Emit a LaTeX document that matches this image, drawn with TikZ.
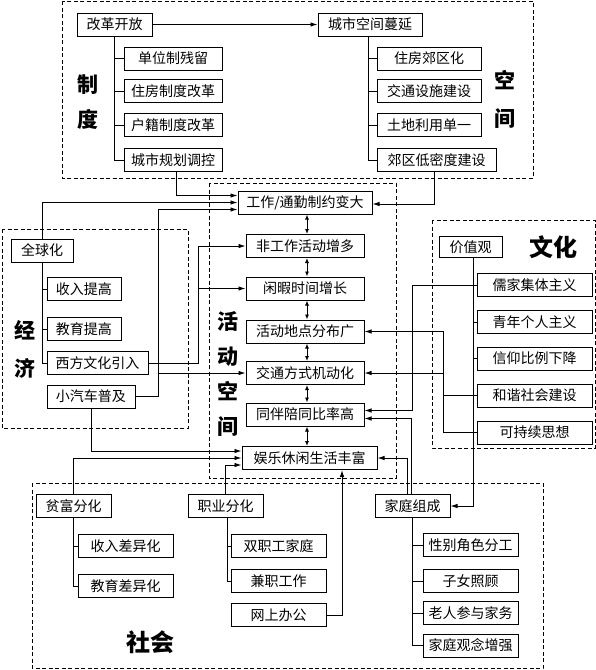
\documentclass[tikz,border=0pt]{standalone}
\usepackage{fontspec}
\setmainfont{Noto Sans CJK SC}
\usetikzlibrary{arrows.meta}

\begin{document}
\begin{tikzpicture}[
    x=1pt, y=-1pt,
    >={Latex[length=7pt,width=4.5pt]},
    every node/.style={font=\fontsize{14}{16}\selectfont},
    factor/.style={draw, line width=1pt, minimum width=#1, minimum height=23pt, inner sep=1pt},
    factor/.default=75,
    link/.style={line width=0.9pt},
    both/.style={line width=0.9pt, {Latex[length=5pt,width=4pt]}-{Latex[length=5pt,width=4pt]}},
    group/.style={draw, line width=1pt, dash pattern=on 4pt off 2.5pt},
    heading/.style={font=\fontsize{21}{35}\selectfont\bfseries, align=center, inner sep=0pt},
]
\useasboundingbox (0,0) rectangle (596,670);

% === Dashed groups ===
\draw[group] (62,1) rectangle (533,178);
\draw[group] (2,229) rectangle (188,428);
\draw[group] (209,183) rectangle (396,478);
\draw[group] (432,220) rectangle (595,448);
\draw[group] (32,483) rectangle (543,668);

% === 制度 ===
\node[factor=75] (gaige) at (114.5,24.5) {改革开放};
\node[factor=98] (danwei) at (173,58.5) {单位制残留};
\node[factor=98] (zhufang) at (173,91) {住房制度改革};
\node[factor=98] (huji) at (173,125) {户籍制度改革};
\node[factor=98] (guihua) at (173,160) {城市规划调控};
\node[heading] (zhidu) at (88,102.5) {制\\度};

% === 空间 ===
\node[factor=104] (manyan) at (370,24.5) {城市空间蔓延};
\node[factor=104] (jiaoqu) at (429,58.5) {住房郊区化};
\node[factor=104] (sheshi) at (429,91) {交通设施建设};
\node[factor=104] (tudi) at (429,125) {土地利用单一};
\node[factor=119] (midu) at (436.5,160) {郊区低密度建设};
\node[heading] (kongjian) at (505,99) {空\\[3pt]间};

% === 活动空间 ===
\node[factor=134] (gongzuo) at (305,202.5) {工作/通勤制约变大};
\node[factor=118] (feigz) at (305,246) {非工作活动增多};
\node[factor=118] (xianxia) at (305,288.5) {闲暇时间增长};
\node[factor=118] (didian) at (305,331.5) {活动地点分布广};
\node[factor=118] (jidong) at (305,373) {交通方式机动化};
\node[factor=118] (peitong) at (305,414.5) {同伴陪同比率高};
\node[factor=135] (yule) at (309.5,458) {娱乐休闲生活丰富};
\node[heading] (huodong) at (228,373.5) {活\\动\\空\\间};

% === 经济 ===
\node[factor=62] (quanqiu) at (42,250.5) {全球化};
\node[factor=74] (shouru) at (84,289) {收入提高};
\node[factor=74] (jiaoyu) at (84,329) {教育提高};
\node[factor=101] (xifang) at (97.5,363) {西方文化引入};
\node[factor=88] (qiche) at (91,396.5) {小汽车普及};
\node[heading] (jingji) at (25,349) {经\\[3pt]济};

% === 文化 ===
\node[factor=63, minimum height=21pt] (jiazhi) at (470.5,247) {价值观};
\node[factor=115] (rujia) at (534.5,285) {儒家集体主义};
\node[factor=115] (qingnian) at (534.5,322) {青年个人主义};
\node[factor=115] (xinyang) at (534.5,358.5) {信仰比例下降};
\node[factor=115] (hexie) at (534.5,395.5) {和谐社会建设};
\node[factor=115] (kechixu) at (534.5,432.5) {可持续思想};
\node[heading, font=\fontsize{24}{28}\selectfont\bfseries] (wenhua) at (553,247) {文化};

% === 社会 ===
\node[factor=75] (pinfu) at (73.5,506) {贫富分化};
\node[factor=95] (srcy) at (125.5,546) {收入差异化};
\node[factor=95] (jycy) at (125.5,586) {教育差异化};
\node[factor=75] (zhiye) at (225.5,506) {职业分化};
\node[factor=95] (shuangzhi) at (278.5,546) {双职工家庭};
\node[factor=95] (jianzhi) at (278.5,581) {兼职工作};
\node[factor=95] (wangshang) at (278.5,615) {网上办公};
\node[factor=75] (jiating) at (412.5,506) {家庭组成};
\node[factor=95] (xingbie) at (470.5,545) {性别角色分工};
\node[factor=95] (zinv) at (470.5,581) {子女照顾};
\node[factor=95] (laoren) at (470.5,613) {老人参与家务};
\node[factor=95] (guannian) at (470.5,645.5) {家庭观念增强};
\node[heading, font=\fontsize{24}{28}\selectfont\bfseries] (shehui) at (150,642) {社会};

% === Trunks ===
\foreach \c in {danwei,zhufang,huji,guihua} \draw[link] (gaige.south) |- (\c.west);
\foreach \c in {jiaoqu,sheshi,tudi,midu} \draw[link] ([xshift=-2pt]manyan.south) |- (\c.west);
\foreach \c in {shouru,jiaoyu,xifang} \draw[link] (quanqiu.south) |- (\c.west);
\foreach \c in {rujia,qingnian,xinyang,hexie,kechixu} \draw[link] ([xshift=2.5pt]jiazhi.south) |- (\c.west);
\foreach \c in {srcy,jycy} \draw[link] (pinfu.south) |- (\c.west);
\foreach \c in {shuangzhi,jianzhi} \draw[link] ([xshift=1.5pt]zhiye.south) |- (\c.west);
\foreach \c in {xingbie,zinv,laoren,guannian} \draw[link] (jiating.south) |- (\c.west);

% === 活动空间 chain ===
\foreach \a/\b in {gongzuo/feigz,feigz/xianxia,xianxia/didian,didian/jidong,jidong/peitong,peitong/yule}
  \draw[both] ([xshift=2pt]\a.south) -- ([xshift=2pt]\a.south |- \b.north);

% 制度 / 空间
\draw[link,->] (gaige.east) -- (manyan.west);
\draw[link,->] ([xshift=3pt]guihua.south) |- ([yshift=7pt]gongzuo.west);
\draw[link,->] ([xshift=-2.5pt]midu.south) |- ([yshift=-1.5pt]gongzuo.east);

% 经济
\draw[link,->] (quanqiu.north) |- (gongzuo.west);
\coordinate (carturn) at (158,396.5);
\draw[link,->] (qiche.east) -- (carturn) |- ([yshift=-7pt]gongzuo.west);
\draw[link,->] (carturn |- jidong.west) -- (jidong.west);
\draw[link,->] (qiche.south) |- ([yshift=7pt]yule.west);
\coordinate (westturn) at (198,363);
\draw[link,->] (xifang.east) -- (westturn) |- (feigz.west);
\draw[link,->] (westturn |- xianxia.west) -- (xianxia.west);

% 文化
\coordinate (rujiaturn) at (412,285);
\draw[link,->] (rujia.west) -- (rujiaturn) |- ([yshift=4pt]peitong.east);
\coordinate (hexieturn) at (443,432.5);
\draw[link,->] (kechixu.west) -- (hexieturn) |- (didian.east);
\draw[link] (hexie.west) -- (hexieturn |- hexie.west);
\draw[link,->] (hexieturn |- jidong.east) -- (jidong.east);
\draw[link,->] ([xshift=2.5pt]jiazhi.south) |- (jiating.east);

% 社会
\draw[link,->] (pinfu.north) |- (yule.west);
\draw[link,->] (zhiye.north) |- ([yshift=-7pt]yule.west);
\draw[link,->] (wangshang.east) -| ([xshift=32.5pt]yule.south);
\draw[link,->] ([xshift=-1.5pt]jiating.north) |- ([yshift=-4pt]peitong.east);
\draw[link,->] ([xshift=-5.5pt]jiating.north) |- (yule.east);

\end{tikzpicture}
\end{document}
